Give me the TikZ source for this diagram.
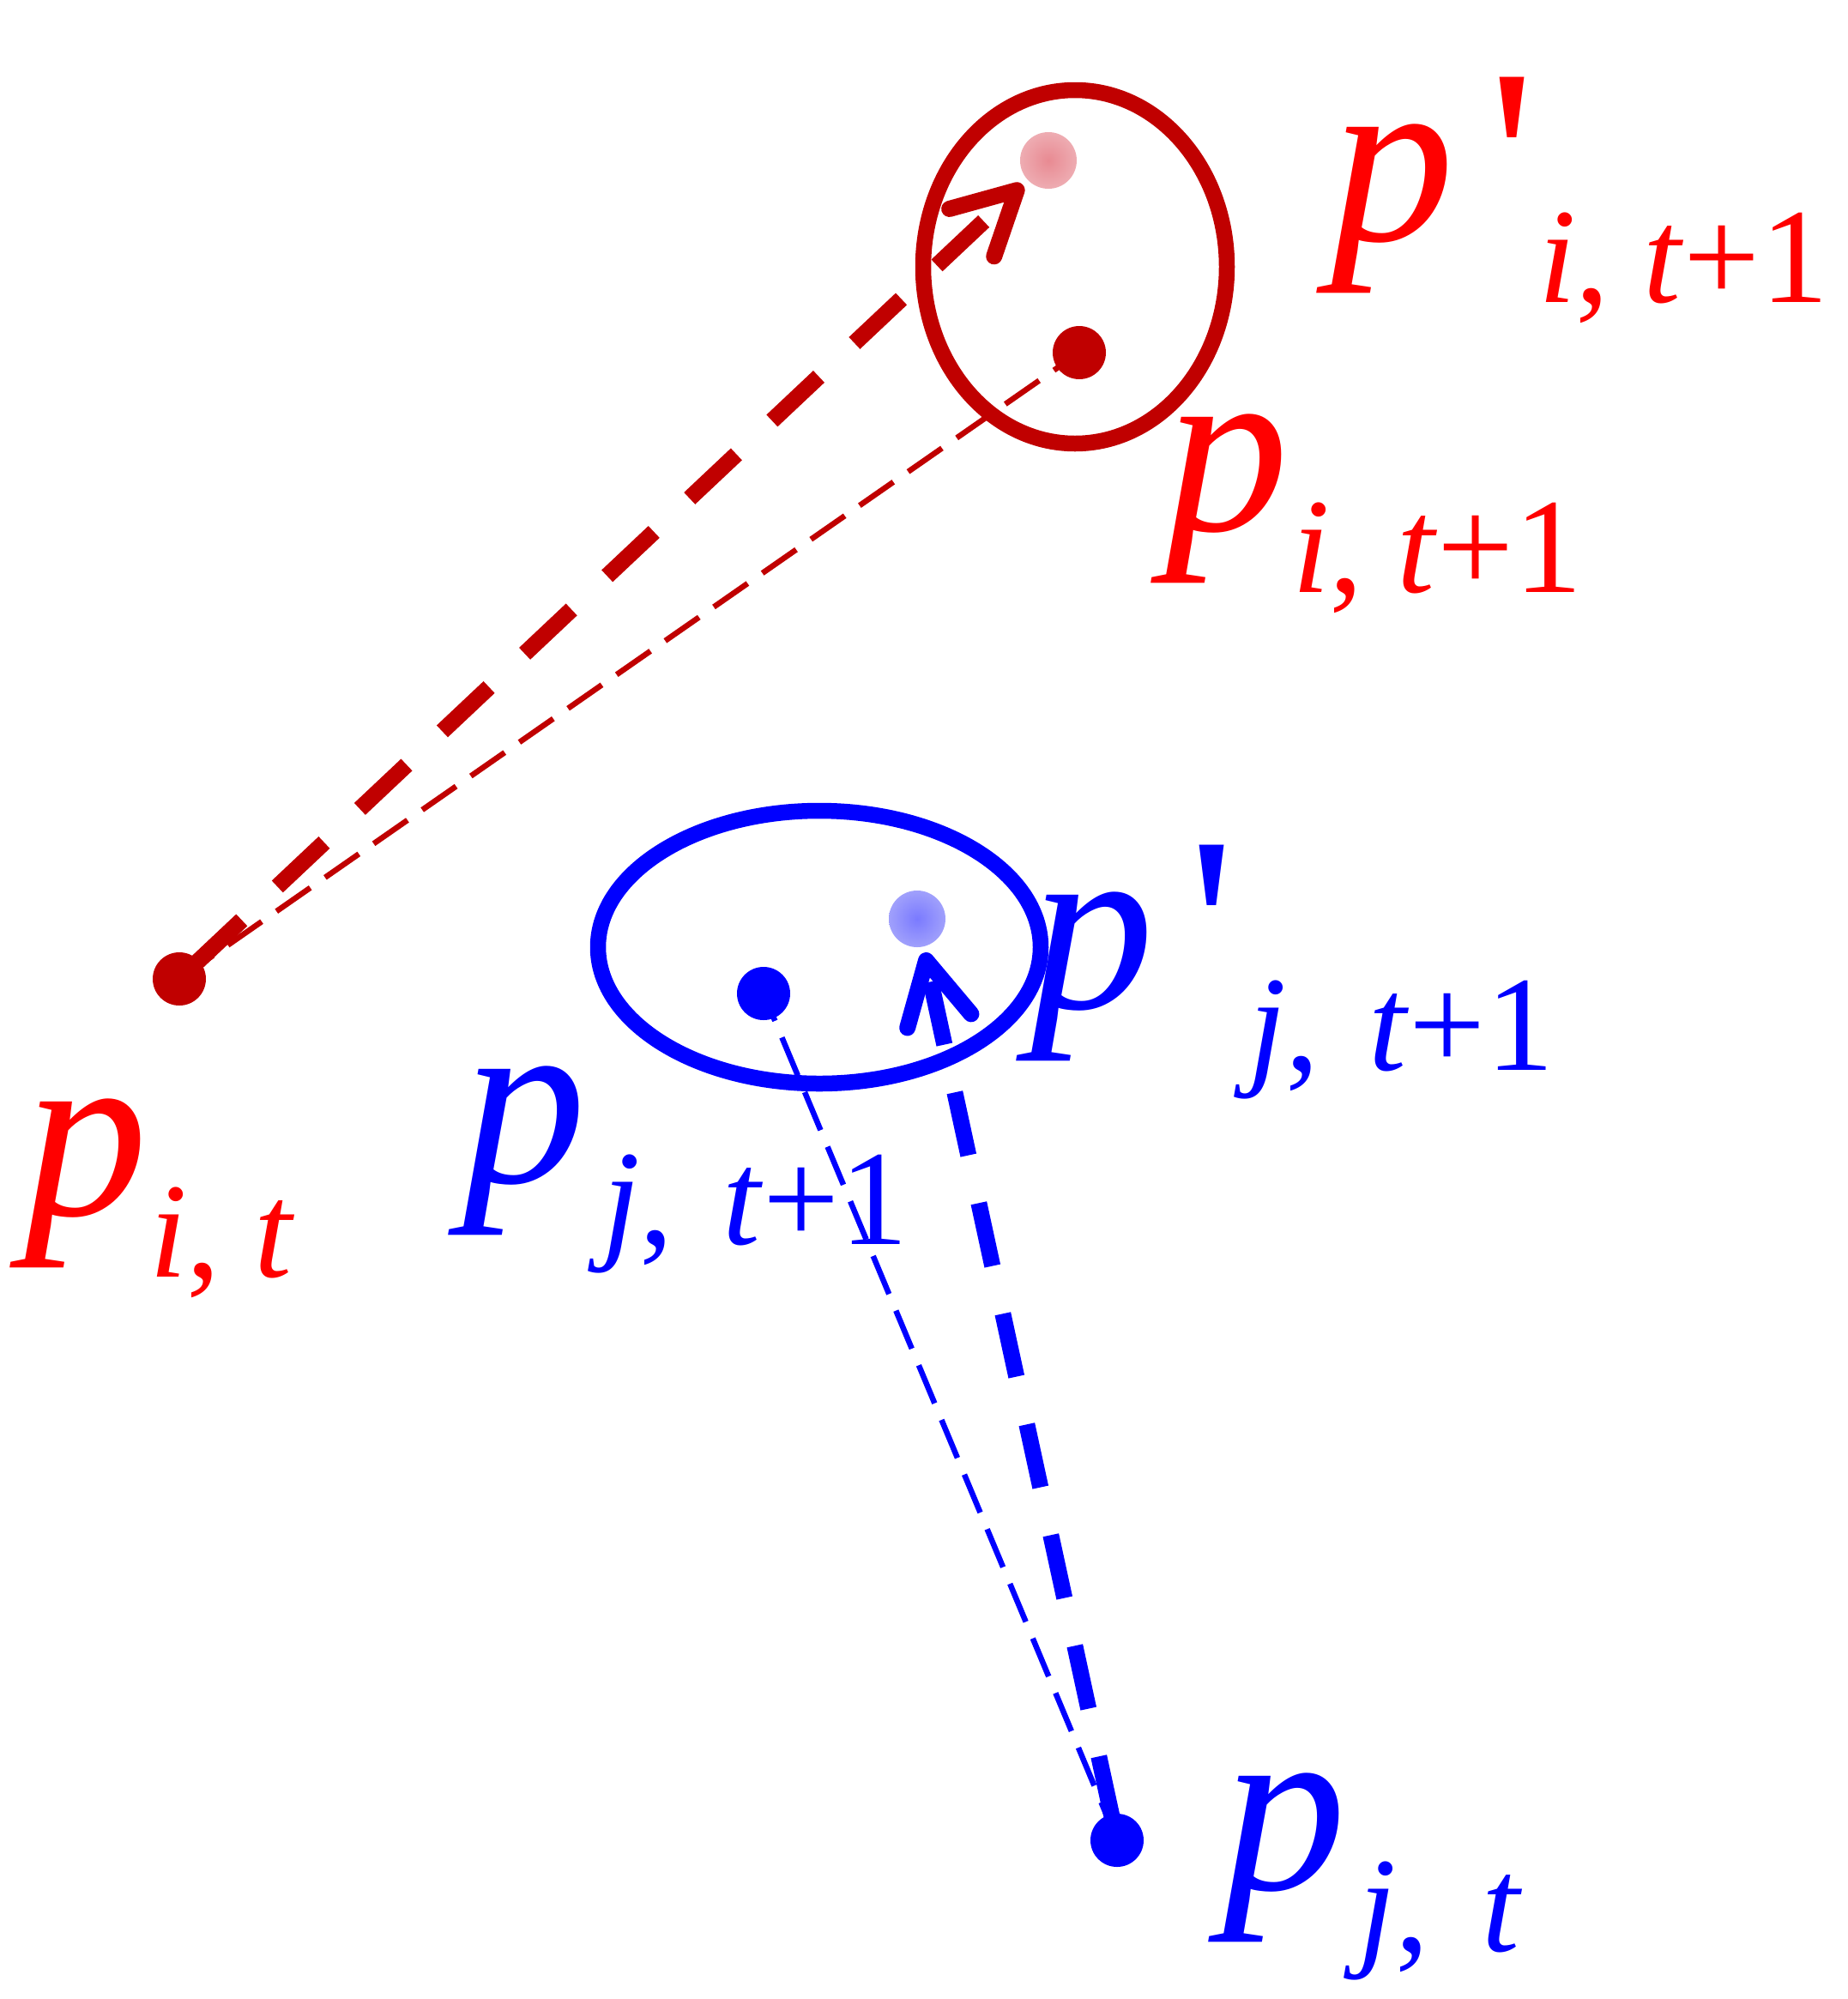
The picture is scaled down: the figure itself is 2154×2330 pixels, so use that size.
\documentclass[tikz,border=0pt]{standalone}
\usepackage{fontspec}
\setmainfont{Liberation Serif}
\newfontfamily\qfont{Liberation Serif}
\usetikzlibrary{arrows.meta}
\definecolor{rdark}{RGB}{192,0,0}
\definecolor{rtext}{RGB}{255,0,0}
\definecolor{bmain}{RGB}{0,0,255}
\definecolor{rfadein}{RGB}{232,138,146}
\definecolor{rfadeout}{RGB}{244,206,210}
\definecolor{bfadein}{RGB}{122,122,255}
\definecolor{bfadeout}{RGB}{198,198,248}
\pgfdeclareradialshading{redglow}{\pgfpoint{0bp}{0bp}}{color(0bp)=(rfadein); color(50bp)=(rfadeout)}
\pgfdeclareradialshading{blueglow}{\pgfpoint{0bp}{0bp}}{color(0bp)=(bfadein); color(50bp)=(bfadeout)}
\newcommand\bigp{\fontsize{288}{288}\selectfont\itshape p}
\newcommand\subsz{\fontsize{158}{158}\selectfont}
\newcommand\primemark{\raisebox{-6pt}{\fontsize{300}{300}\qfont\char"27}}
\newcommand\lblplain[2]{\rlap{\bigp}\hspace*{#1}\raisebox{-72pt}{\subsz #2}}
\newcommand\lblprime[2]{\rlap{\bigp}\rlap{\hspace*{184pt}\primemark}\hspace*{#1}\raisebox{-72pt}{\subsz #2}}
\tikzset{
  dotr/.style={circle, fill=rdark, minimum size=62pt, inner sep=0pt},
  dotb/.style={circle, fill=bmain, minimum size=62pt, inner sep=0pt},
  glow/.style={circle, minimum size=66pt, inner sep=0pt, shade},
  lbl/.style={anchor=base west, inner sep=0pt, outer sep=0pt},
  ring/.style={line width=18.5pt},
  thickdash/.style={line width=19pt, dash pattern=on 75pt off 57pt, dash phase=107pt,
     -{Straight Barb[length=72pt, width=76pt, round]}},
  thindash/.style={line width=6.5pt, dash pattern=on 48pt off 21pt},
}
\begin{document}
\begin{tikzpicture}[x=1pt, y=-1pt]
\fill[white] (0,0) rectangle (2154,2330);
\useasboundingbox (0,0) rectangle (2154,2330);

% ellipses
\draw[ring, rdark] (1253,311) ellipse [x radius=177pt, y radius=206pt];
\draw[ring, bmain] (955,1104) ellipse [x radius=258pt, y radius=159pt];

% points
\node[glow, shading=redglow] (pfi) at (1222,187) {};
\node[glow, shading=blueglow] (pfj) at (1069,1071) {};
\node[dotr] (pit) at (209,1141) {};
\node[dotr] (pi1) at (1258,411) {};
\node[dotb] (pjt) at (1302,2145) {};
\node[dotb] (pj1) at (890,1158) {};

% labels
\node[lbl, text=rtext] (Lfi) at (1551,280) {\lblprime{242pt}{\textit{i}, \textit{t}+1}};
\node[lbl, text=rtext] (Li1) at (1358,618) {\lblplain{148pt}{\textit{i}, \textit{t}+1}};
\node[lbl, text=rtext] (Lit) at (28,1416) {\lblplain{146pt}{\textit{i}, \textit{t}}};
\node[lbl, text=bmain] (Lfj) at (1201,1175) {\lblprime{254pt}{\textit{j},\hspace{18pt} \textit{t}+1}};
\node[lbl, text=bmain] (Lj1) at (539,1378) {\lblplain{163pt}{\textit{j},\hspace{18pt} \textit{t}+1}};
\node[lbl, text=bmain] (Ljt) at (1425,2202) {\lblplain{158pt}{\textit{j},\hspace{22pt} \textit{t}}};

% connectors
\draw[thindash, rdark] (pit.center) -- (pi1.center);
\draw[thindash, bmain] (pjt.center) -- (pj1.center);
\draw[thickdash, rdark, shorten >=8pt] (pit.center) -- (pfi);
\draw[thickdash, bmain, shorten >=7pt] (pjt.center) -- (pfj);
\end{tikzpicture}
\end{document}
